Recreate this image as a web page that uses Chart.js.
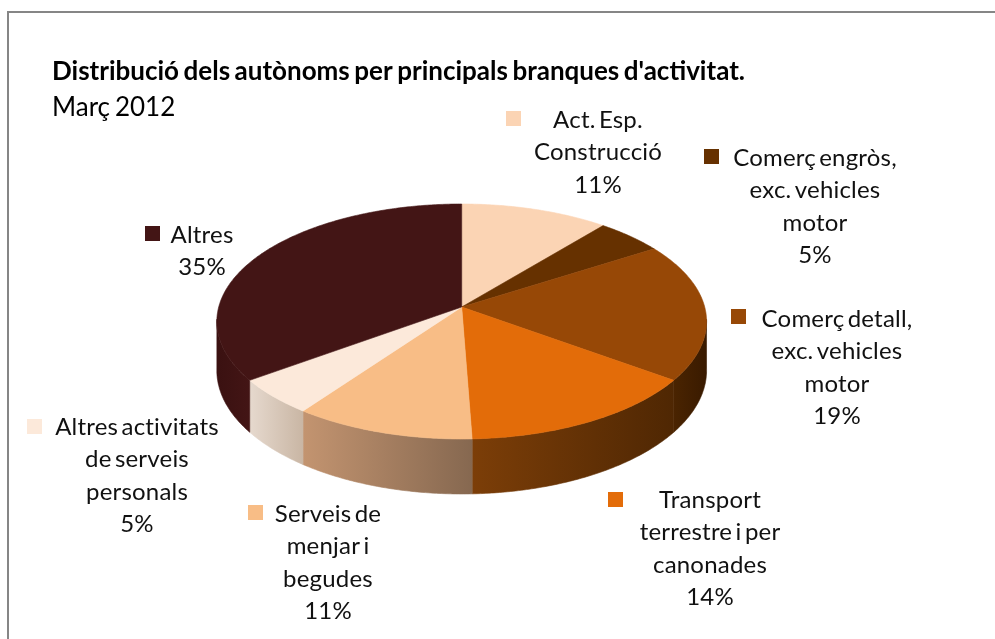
<!DOCTYPE html>
<html>
<head>
<meta charset="utf-8">
<title>Distribució dels autònoms</title>
<script src="https://cdn.jsdelivr.net/npm/chart.js@4/dist/chart.umd.min.js"></script>
<style>
    html, body { margin: 0; padding: 0; background: #fff; }
    canvas { display: block; }
</style>
</head>
<body>
<canvas id="pieChart" width="995" height="639"></canvas>
<script>
var categories = ['Act. Esp. Construcció', 'Comerç engròs, exc. vehicles motor', 'Comerç detall, exc. vehicles motor',
    'Transport terrestre i per canonades', 'Serveis de menjar i begudes', 'Altres activitats de serveis personals', 'Altres'];
var shares = [11, 5, 19, 14.4, 10.6, 5, 35];
var labelLines = [
    ['Act. Esp.', 'Construcció'],
    ['Comerç engròs,', 'exc. vehicles', 'motor'],
    ['Comerç detall,', 'exc. vehicles', 'motor'],
    ['Transport', 'terrestre i per', 'canonades'],
    ['Serveis de', 'menjar i', 'begudes'],
    ['Altres activitats', 'de serveis', 'personals'],
    ['Altres']
];
var topColors = ['#fbd4b4', '#663100', '#974806', '#e36c09', '#f8bd86', '#fce9da', '#431515'];
var wallLeft = ['#fbd4b4', '#663100', '#4a2401', '#7c3e08', '#c39470', '#e6d9ce', '#3a1111'];
var wallRight = ['#fbd4b4', '#663100', '#391a00', '#4f2703', '#866850', '#c9b6a4', '#431515'];

// where each label block sits: centre x of text, y of first line, swatch left/top
var labelPos = [
    { x: 598, y: 120, sx: 506, sy: 111 },
    { x: 815, y: 158, sx: 704, sy: 149 },
    { x: 837, y: 319, sx: 731, sy: 309 },
    { x: 710, y: 500, sx: 608, sy: 492 },
    { x: 328, y: 514, sx: 248, sy: 505 },
    { x: 137, y: 427, sx: 27, sy: 419 },
    { x: 202, y: 235, sx: 145, sy: 226 }
];

// the pie is a tilted disc seen in perspective, so the arcs get projected by hand
var view = { cx: 461.7, cy: 307, rx: 243, ry: 115.7, depth: 48.2, k: 0.1234 };

function project(theta, low) {
    var w = 1 + view.k * Math.cos(theta);
    return {
        x: view.cx + view.rx * Math.sin(theta) / w,
        y: view.cy + (-view.ry * Math.cos(theta) + (low ? view.depth : 0)) / w
    };
}

function traceRim(ctx, from, to, low) {
    var steps = Math.max(2, Math.ceil(Math.abs(to - from) / 0.01));
    for (var i = 0; i <= steps; i++) {
        var p = project(from + (to - from) * i / steps, low);
        ctx.lineTo(p.x, p.y);
    }
}

var frontFrom = 96 * Math.PI / 180;
var frontTo = 264 * Math.PI / 180;

var perspectivePie = {
    id: 'perspectivePie',
    beforeDraw: function (chart) {
        // Calibri-like tight word gaps for the title block
        chart.ctx.wordSpacing = '-1.8px';
    },
    beforeDatasetDraw: function (chart, args) {
        var ctx = chart.ctx;
        var arcs = args.meta.data;
        ctx.save();
        // outer wall first
        arcs.forEach(function (arc, i) {
            var from = Math.max(arc.startAngle + Math.PI / 2, frontFrom);
            var to = Math.min(arc.endAngle + Math.PI / 2, frontTo);
            if (to <= from) { return; }
            var a = project(to, false), b = project(from, false);
            var grad = ctx.createLinearGradient(a.x, 0, b.x, 0);
            grad.addColorStop(0, wallLeft[i]);
            grad.addColorStop(1, wallRight[i]);
            ctx.beginPath();
            traceRim(ctx, from, to, false);
            traceRim(ctx, to, from, true);
            ctx.closePath();
            ctx.fillStyle = grad;
            ctx.fill();
            ctx.strokeStyle = grad;
            ctx.lineWidth = 0.6;
            ctx.stroke();
        });
        // then the top face
        arcs.forEach(function (arc) {
            var from = arc.startAngle + Math.PI / 2;
            var to = arc.endAngle + Math.PI / 2;
            ctx.beginPath();
            ctx.moveTo(view.cx, view.cy);
            traceRim(ctx, from, to, false);
            ctx.closePath();
            ctx.fillStyle = arc.options.backgroundColor;
            ctx.fill();
            ctx.strokeStyle = arc.options.backgroundColor;
            ctx.lineWidth = 0.6;
            ctx.stroke();
        });
        ctx.restore();
        return false;
    }
};

var sliceLabels = {
    id: 'sliceLabels',
    afterDraw: function (chart) {
        var ctx = chart.ctx;
        var total = shares.reduce(function (a, b) { return a + b; }, 0);
        ctx.save();
        // chart frame, runs off the right and bottom of the picture
        ctx.strokeStyle = '#868686';
        ctx.lineWidth = 2;
        ctx.beginPath();
        ctx.moveTo(8, 700);
        ctx.lineTo(8, 12);
        ctx.lineTo(1100, 12);
        ctx.stroke();

        ctx.font = '24px Lato';
        ctx.wordSpacing = '-3px';
        ctx.letterSpacing = '0.2px';
        ctx.textAlign = 'center';
        ctx.textBaseline = 'middle';
        labelLines.forEach(function (lines, i) {
            var pos = labelPos[i];
            ctx.fillStyle = topColors[i];
            ctx.fillRect(pos.sx, pos.sy, 15, 15);
            ctx.fillStyle = '#111';
            lines.concat(Math.round(shares[i] / total * 100) + '%').forEach(function (line, n) {
                ctx.fillText(line, pos.x, pos.y + n * 32.4);
            });
        });
        ctx.restore();
    }
};

var chart = new Chart(document.getElementById('pieChart').getContext('2d'), {
    type: 'pie',
    plugins: [perspectivePie, sliceLabels],
    data: {
        labels: categories,
        datasets: [{
            data: shares,
            backgroundColor: topColors,
            borderWidth: 0
        }]
    },
    options: {
        responsive: false,
        animation: false,
        layout: { padding: { left: 52, top: 56 } },
        plugins: {
            legend: { display: false },
            tooltip: { enabled: false },
            title: {
                display: true,
                text: "Distribució dels autònoms per principals branques d'activitat.",
                align: 'start',
                color: '#000',
                font: { family: 'Lato', size: 26, weight: 'bold' },
                padding: { top: 0, bottom: 5 }
            },
            subtitle: {
                display: true,
                text: 'Març 2012',
                align: 'start',
                color: '#000',
                font: { family: 'Lato', size: 26 },
                padding: 0
            }
        }
    }
});
</script>
</body>
</html>
